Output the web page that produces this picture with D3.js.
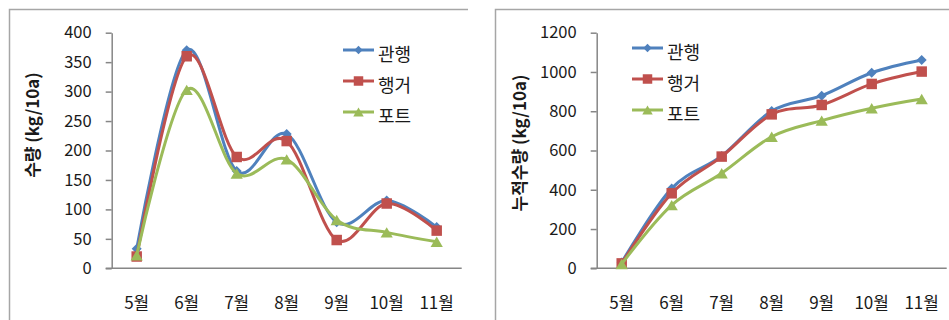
<!DOCTYPE html>
<html>
<head>
<meta charset="utf-8">
<script src="https://cdn.jsdelivr.net/npm/d3@7"></script>
<style>
  html, body { margin: 0; padding: 0; background: #fff; }
  svg { display: block; }
  text { font-family: "Noto Sans CJK KR", "Noto Sans", sans-serif; fill: #1a1a1a; }
</style>
</head>
<body>
<svg id="chart" width="949" height="320"></svg>
<script>
// Months on the x axis
const months = ["5월", "6월", "7월", "8월", "9월", "10월", "11월"];
const seriesNames = ["관행", "행거", "포트"];

// Monthly yield (kg/10a)
const monthlyConventional = [33, 370, 165, 228, 78, 115, 70];
const monthlyHanger = [20, 360, 189, 216, 48, 110, 64];
const monthlyPot = [22, 303, 161, 185, 82, 61, 45];

// Cumulative yield (kg/10a)
const cumulativeConventional = [30, 407, 572, 801, 879, 996, 1061];
const cumulativeHanger = [25, 382, 569, 784, 832, 939, 1002];
const cumulativePot = [22, 322, 484, 670, 752, 815, 862];

// Axis ticks
const monthlyTicks = [0, 50, 100, 150, 200, 250, 300, 350, 400];
const cumulativeTicks = [0, 200, 400, 600, 800, 1000, 1200];

const colors = ["#4F81BD", "#C0504D", "#9BBB59"];

// Marker shapes: diamond, square, triangle
const diamond = {
  draw(ctx, size) {
    const r = Math.sqrt(size) / 2;
    ctx.moveTo(0, -r); ctx.lineTo(r, 0); ctx.lineTo(0, r); ctx.lineTo(-r, 0); ctx.closePath();
  }
};
const square = {
  draw(ctx, size) {
    const r = Math.sqrt(size) / 2;
    ctx.rect(-r, -r, 2 * r, 2 * r);
  }
};
const triangle = {
  draw(ctx, size) {
    const w = Math.sqrt(size) / 2;
    const h = w * 0.85;
    ctx.moveTo(0, -h); ctx.lineTo(w, h); ctx.lineTo(-w, h); ctx.closePath();
  }
};
const shapes = [diamond, square, triangle];
const markerSizes = [100, 110, 150];
const legendMarkerSizes = [70, 90, 110];

const svg = d3.select("#chart");

function drawPanel(cfg) {
  const g = svg.append("g");

  // panel frame
  g.append("path")
    .attr("d", cfg.frame)
    .attr("fill", "none")
    .attr("stroke", "#a6a6a6")
    .attr("stroke-width", 1.5);

  const x = d3.scaleBand().domain(months).range(cfg.xRange).padding(0);
  const cx = d => x(d) + x.bandwidth() / 2;
  const y = d3.scaleLinear().domain([0, cfg.yMax]).range(cfg.yRange);

  // y axis
  const yAxis = d3.axisLeft(y)
    .tickValues(cfg.ticks)
    .tickFormat(d3.format("d"))
    .tickSize(6).tickSizeOuter(0).tickPadding(14);
  const ya = g.append("g").attr("transform", `translate(${cfg.xRange[0]},0)`).call(yAxis);
  ya.select(".domain").attr("stroke", "#868686").attr("stroke-width", 1.5);
  ya.selectAll(".tick line").attr("stroke", "#868686").attr("stroke-width", 1.5);
  ya.selectAll(".tick text")
    .style("font-size", "16.5px")
    .style("font-family", "\"Noto Sans CJK KR\", sans-serif")
    .attr("fill", "#1a1a1a");

  // x axis line (starts at the tick ends)
  g.append("line")
    .attr("x1", cfg.xRange[0] - 6).attr("x2", cfg.xRange[1])
    .attr("y1", y(0)).attr("y2", y(0))
    .attr("stroke", "#868686").attr("stroke-width", 1.5);

  g.selectAll(".xlab").data(months).enter().append("text")
    .attr("x", d => cx(d))
    .attr("y", y(0) + 35)
    .attr("dy", "0.35em")
    .attr("text-anchor", "middle")
    .style("font-size", "17px")
    .text(d => d);

  // y axis title
  g.append("text")
    .attr("transform", `translate(${cfg.titleX},${cfg.titleY}) rotate(-90)`)
    .attr("text-anchor", "middle")
    .attr("dy", "0.35em")
    .style("font-size", "17px")
    .style("font-weight", "bold")
    .text(cfg.title);

  const line = d3.line()
    .x((d, i) => cx(months[i]))
    .y(d => y(d))
    .curve(cfg.curve);

  cfg.series.forEach((vals, si) => {
    g.append("path")
      .attr("d", line(vals))
      .attr("fill", "none")
      .attr("stroke", colors[si])
      .attr("stroke-width", 3)
      .attr("stroke-linejoin", "round");
    g.selectAll(".m" + si).data(vals).enter().append("path")
      .attr("transform", (d, i) => `translate(${cx(months[i])},${y(d)})`)
      .attr("d", d3.symbol(shapes[si], markerSizes[si]))
      .attr("fill", colors[si]);
  });

  // legend
  seriesNames.forEach((name, si) => {
    const ly = cfg.legendY + si * 31;
    g.append("line")
      .attr("x1", cfg.legendX).attr("x2", cfg.legendX + 31)
      .attr("y1", ly).attr("y2", ly)
      .attr("stroke", colors[si]).attr("stroke-width", 3);
    g.append("path")
      .attr("transform", `translate(${cfg.legendX + 15.5},${ly})`)
      .attr("d", d3.symbol(shapes[si], legendMarkerSizes[si]))
      .attr("fill", colors[si]);
    g.append("text")
      .attr("x", cfg.legendX + 35)
      .attr("y", ly + 5)
      .attr("dy", "0.35em")
      .style("font-size", "18px")
      .text(name);
  });
}

drawPanel({
  frame: "M9.5,330 V9.5 H468",
  xRange: [111.7, 461.7],
  yRange: [268.3, 32.7],
  yMax: 400,
  ticks: monthlyTicks,
  title: "수량 (kg/10a)",
  titleX: 33,
  titleY: 125,
  series: [monthlyConventional, monthlyHanger, monthlyPot],
  curve: d3.curveCardinal.tension(0),
  legendX: 343,
  legendY: 50
});

drawPanel({
  frame: "M495.5,330 V9.5 H960",
  xRange: [596.7, 946.7],
  yRange: [268.3, 32.7],
  yMax: 1200,
  ticks: cumulativeTicks,
  title: "누적수량 (kg/10a)",
  titleX: 520,
  titleY: 143,
  series: [cumulativeConventional, cumulativeHanger, cumulativePot],
  curve: d3.curveCardinal.tension(0),
  legendX: 632,
  legendY: 48
});
</script>
</body>
</html>
